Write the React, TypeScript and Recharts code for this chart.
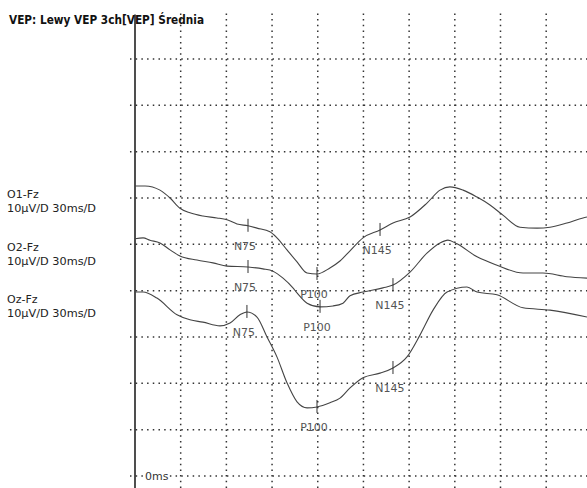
import React from 'react';
import { ComposedChart, Line, Scatter, XAxis, YAxis, ReferenceLine } from 'recharts';

// time in ms, amplitude in display units (10 µV per grid division)
const o1Time = [0, 6.6, 16.4, 23, 29.5, 36.1, 44.6, 53.8, 60.4, 67, 74.2, 80.1, 88.6, 93.2, 99.8, 106.4, 113, 119.5, 128, 134.6, 141.2, 149.7, 160.9, 169.4, 180.6, 191.7, 200.3, 206.8, 215.4, 224.6, 233.1, 241.6, 252.8, 264, 272.5, 283.6, 294.2, 296.8];
const o1Uv = [62.6, 62.6, 61.7, 60.0, 57.8, 56.8, 56.1, 55.7, 55.3, 54.4, 54.0, 53.5, 52.7, 51.4, 48.8, 46.2, 43.8, 43.6, 44.9, 46.4, 48.6, 51.4, 53.1, 54.6, 55.9, 58.9, 61.7, 62.4, 61.7, 60.2, 58.5, 56.3, 53.7, 53.5, 53.7, 54.6, 55.7, 55.9];

const o2Time = [0, 5.3, 9.8, 16.4, 23, 29.5, 40.7, 51.2, 60.4, 74.2, 84, 90.6, 97.2, 103.7, 106.4, 113, 121.5, 130, 136.6, 141.2, 149.7, 162.8, 169.4, 180.6, 191.7, 200.3, 205.5, 211.4, 224.6, 237.7, 254.8, 267.9, 283.6, 296.8];
const o2Uv = [51.2, 51.4, 50.9, 50.3, 48.8, 47.5, 46.6, 46.0, 45.3, 45.1, 44.7, 44.2, 42.7, 40.6, 39.5, 37.3, 36.5, 36.7, 37.3, 38.9, 39.7, 40.6, 41.2, 44.0, 48.1, 50.3, 50.9, 50.1, 47.3, 45.5, 43.8, 43.8, 43.0, 42.7];

const ozTime = [0, 5.3, 14.4, 27.6, 36.1, 44.6, 55.8, 62.4, 68.9, 73.5, 80.1, 86.7, 93.2, 99.8, 106.4, 113, 119.5, 128, 134.6, 141.2, 149.7, 160.9, 169.4, 178.6, 187.1, 195.7, 204.9, 218, 224.6, 237.7, 254.8, 272.5, 296.8];
const ozUv = [39.7, 39.7, 38.4, 34.8, 33.7, 33.2, 32.4, 33.0, 34.8, 35.4, 34.3, 30.0, 25.7, 20.1, 16.0, 14.7, 14.9, 15.8, 16.8, 19.0, 21.2, 22.2, 23.3, 25.7, 30.4, 35.8, 39.7, 40.8, 39.7, 39.1, 36.3, 35.8, 34.3];

const peakNames = ['N75', 'P100', 'N145'];
const o1PeakTime = [74.2, 119.5, 160.9];
const o1PeakUv = [54.0, 43.6, 53.1];
const o2PeakTime = [74.2, 121.5, 169.4];
const o2PeakUv = [45.1, 36.5, 41.2];
const ozPeakTime = [73.5, 119.5, 169.4];
const ozPeakUv = [35.4, 14.9, 23.3];

const gridMs = [30, 60, 90, 120, 150, 180, 210, 240, 270];
const gridUv = [0, 10, 20, 30, 40, 50, 60, 70, 80, 90];

const channelLabels = ['O1-Fz', 'O2-Fz', 'Oz-Fz'];
const scaleLabel = '10µV/D 30ms/D';
const title = 'VEP: Lewy VEP 3ch[VEP] Średnia';

const X_MAX = 296.8;
const Y_MIN = -2.6;
const Y_MAX = 100;

const toPoints = (t: number[], v: number[]) => t.map((x, i) => ({ t: x, v: v[i] }));
const toPeaks = (t: number[], v: number[]) => t.map((x, i) => ({ t: x, v: v[i], name: peakNames[i] }));

const traces = [toPoints(o1Time, o1Uv), toPoints(o2Time, o2Uv), toPoints(ozTime, ozUv)];
const peaks = [toPeaks(o1PeakTime, o1PeakUv), toPeaks(o2PeakTime, o2PeakUv), toPeaks(ozPeakTime, ozPeakUv)];

const labelTops = [186, 239, 291];
const dots = '1.5 4.2';

function PeakMark(props: any) {
    const { cx, cy, payload } = props;
    return (
        <g>
            <line x1={cx} x2={cx} y1={cy - 7} y2={cy + 6} stroke="#333" strokeWidth={1} />
            <text x={cx - 3} y={cy + 24} textAnchor="middle" fontSize={11} fill="#555"
                fontFamily="DejaVu Sans, Verdana, sans-serif">{payload.name}</text>
        </g>
    );
}

export default function App() {
    return (
        <div style={{ position: 'absolute', left: 0, top: 0, width: 587, height: 488, background: '#fff', overflow: 'hidden' }}>
            <ComposedChart width={587} height={488} margin={{ top: 12.7, right: 0, bottom: 0, left: 135 }}>
                <XAxis type="number" dataKey="t" domain={[0, X_MAX]} hide allowDataOverflow />
                <YAxis type="number" domain={[Y_MIN, Y_MAX]} hide allowDataOverflow />
                {gridUv.map(v => (
                    <ReferenceLine key={'h' + v} segment={[{ x: -3.3, y: v }, { x: X_MAX, y: v }]} ifOverflow="visible"
                        stroke="#333" strokeWidth={1.5} strokeDasharray={dots} />
                ))}
                {gridMs.map(t => (
                    <ReferenceLine key={'v' + t} x={t} stroke="#333" strokeWidth={1.5} strokeDasharray={dots} />
                ))}
                <ReferenceLine segment={[{ x: 0, y: 99.6 }, { x: 0, y: Y_MIN }]} ifOverflow="visible" stroke="#222" strokeWidth={1.6} />
                {traces.map((d, i) => (
                    <Line key={'l' + i} data={d} dataKey="v" type="monotone" stroke="#444" strokeWidth={1.1}
                        dot={false} activeDot={false} isAnimationActive={false} />
                ))}
                {peaks.map((d, i) => (
                    <Scatter key={'p' + i} data={d} dataKey="v" shape={PeakMark} isAnimationActive={false} />
                ))}
            </ComposedChart>
            <svg width={587} height={488} style={{ position: 'absolute', left: 0, top: 0, pointerEvents: 'none' }}>
                <text x={9} y={24} fontSize={12.5} fontWeight="bold" fill="#111" textLength={195} lengthAdjust="spacingAndGlyphs"
                    fontFamily="DejaVu Sans, Verdana, sans-serif">{title}</text>
                {channelLabels.map((c, i) => (
                    <g key={c} fontFamily="DejaVu Sans, Verdana, sans-serif" fontSize={11} fill="#222">
                        <text x={7} y={labelTops[i] + 12}>{c}</text>
                        <text x={7} y={labelTops[i] + 26} textLength={89} lengthAdjust="spacingAndGlyphs">{scaleLabel}</text>
                    </g>
                ))}
                <rect x={143} y={469} width={25} height={13} fill="#fff" />
                <text x={145} y={480} fontSize={11} fill="#333" fontFamily="DejaVu Sans, Verdana, sans-serif">0ms</text>
            </svg>
        </div>
    );
}
